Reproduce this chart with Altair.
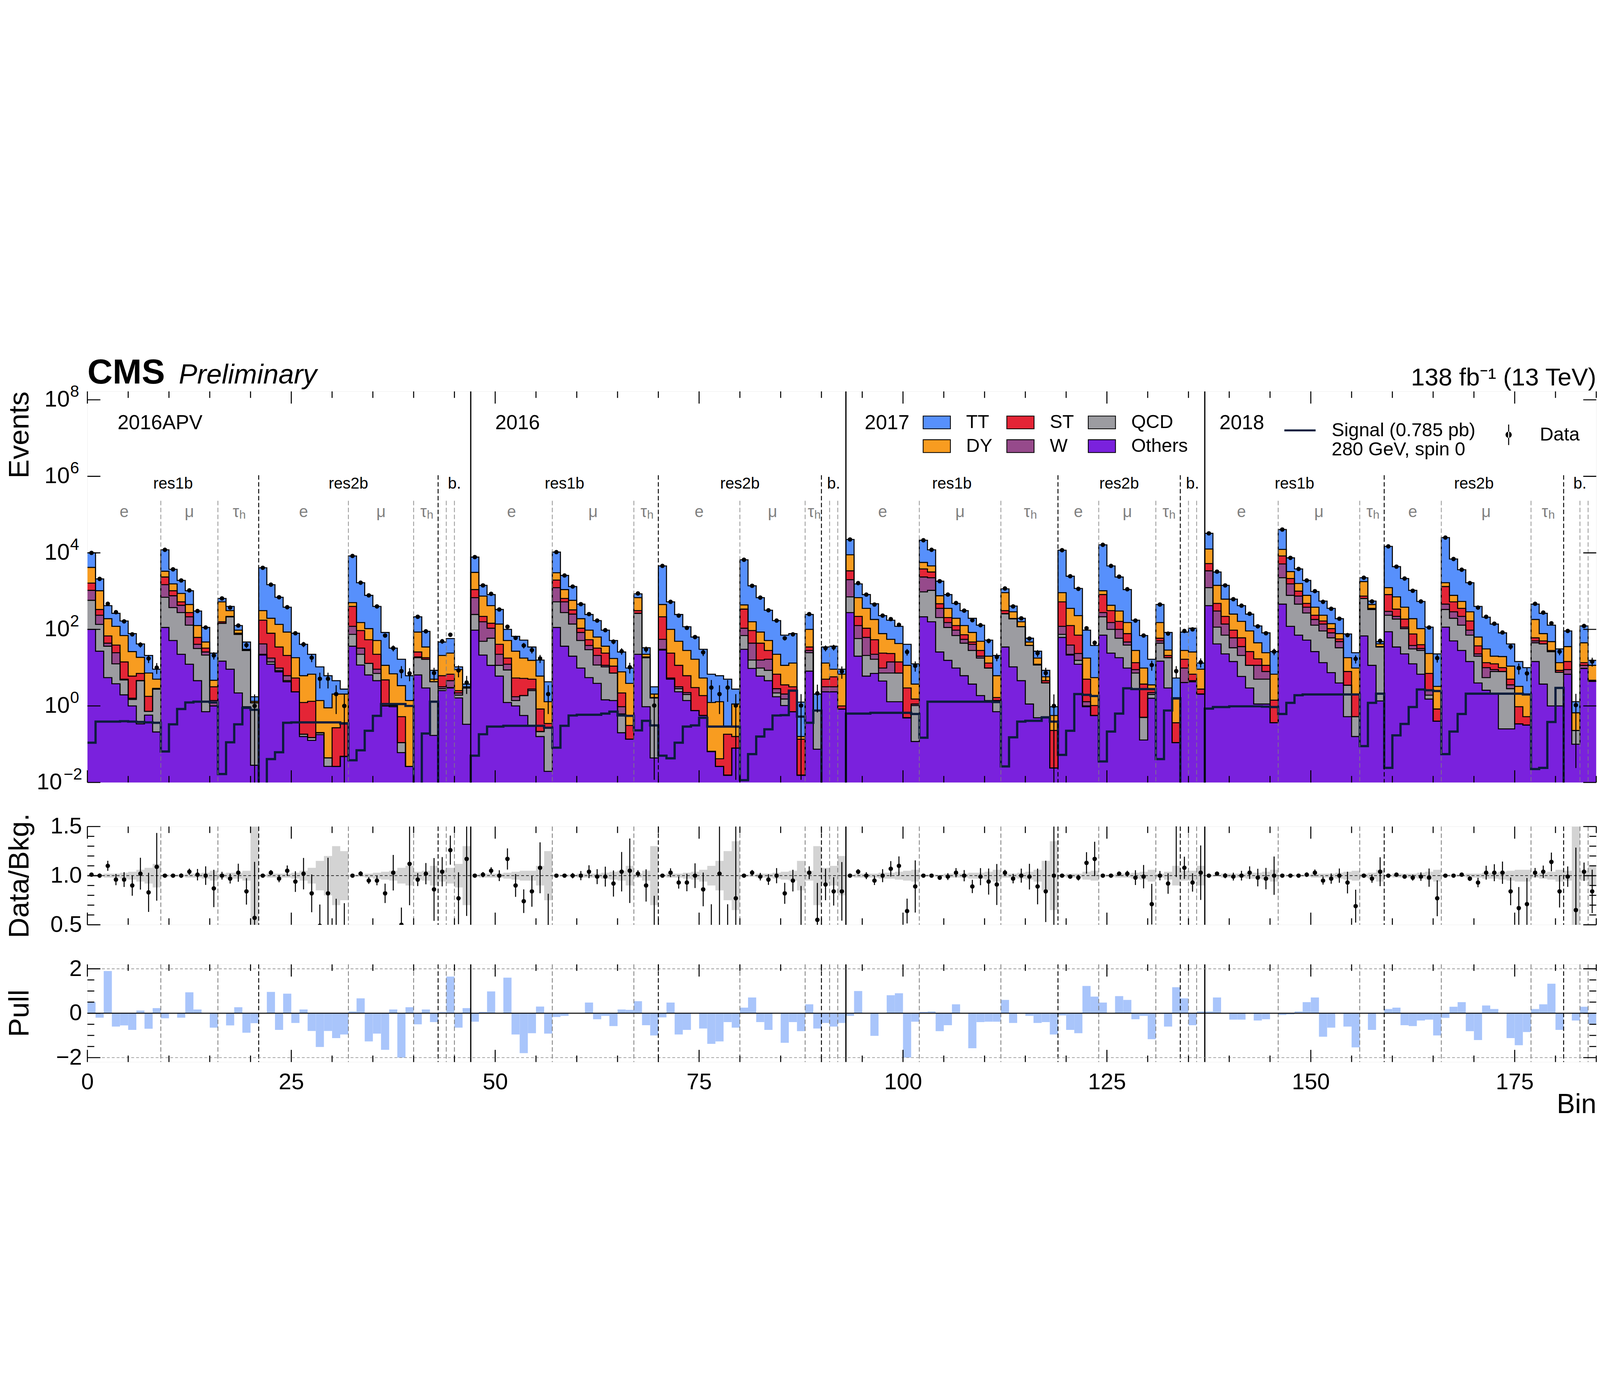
import pandas as pd
import altair as alt

FONT = "Liberation Sans"
W = 7430
H_TOP, H_RATIO, H_PULL = 1926, 484, 481
N_BINS = 185

# ---------------------------------------------------------------------------
# values
# stacked histogram: log10 of the upper edge of each stacked layer, per bin
# (stack order bottom -> top: Others, QCD, W, ST, DY, TT)
# ---------------------------------------------------------------------------
edge_others = [
    2.00, 1.43, 0.74, 0.58, 0.29, 0.00, -0.47, -0.24, -0.68, 2.05, 1.71, 1.35, 1.09, 0.66, -0.15, 0.00,
    1.17, 0.96, 0.34, -0.02, -1.55, 1.33, 1.09, 0.89, 0.63, 0.37, -0.80, -0.90, -0.75, -1.58, -1.58, -1.32,
    1.56, 1.07, 0.81, 0.66, 0.00, -0.02, -1.22, -1.58, 0.81, 0.47, -0.77, 0.40, 0.47, 0.21, -0.48,
    1.98, 1.33, 1.06, 0.78, 0.09, 0.00, -0.25, -0.51, -0.80, -1.71, 2.05, 1.56, 1.30, 0.99, 0.74, 0.59, 0.16, 0.14, -0.70, -0.87,
    1.35, -0.02, -1.36, 1.46, 0.70, 0.37, 0.14, -0.12, -0.25, -1.19, -1.58, -1.81, -1.10,
    1.48, 0.98, 0.78, 0.66, 0.24, 0.01, -0.15, -1.81, 0.91, -1.13, 0.37, 0.37, -0.08,
    2.44, 1.30, 0.78, 0.85, 0.65, 0.11, 0.11, -0.31, -0.93, 2.33, 2.20, 1.41, 1.19, 0.99, 0.79, 0.57, 0.27, 0.14, -0.15,
    1.54, 1.02, 0.66, 0.05, -0.31, -0.28, -1.62, 1.79, 1.33, 1.09, -0.02, -0.25,
    1.85, 1.38, 1.26, 0.99, 0.44, -0.89, 0.20, 1.17, 0.47, -0.96, 0.61, 0.63, 0.31,
    2.62, 1.62, 1.36, 1.16, 0.77, 0.47, 0.05, 0.05, -0.44, 2.66, 2.08, 1.85, 1.72, 1.42, 1.13, 0.87, 0.60, -0.28, -0.80,
    1.83, 1.06, 0.13, 1.94, 1.54, 1.36, 1.10, 0.83, 0.18, -0.40,
    2.06, 1.70, 1.45, 1.16, 0.60, 0.41, 0.31, -0.60, -0.60, -0.47, -0.50, 1.16, 0.57, 0.00, 0.00, 0.83, -1.00, 0.98, 0.64,
]
edge_qcd = [
    2.76, 2.13, 1.56, 1.10, 0.68, 0.17, 0.66, -0.14, 0.44, 2.84, 2.57, 2.44, 2.11, 1.50, 1.33, 0.00,
    2.16, 2.33, 1.87, 1.45, 0.08, 1.35, 1.15, 0.92, 0.66, 0.37, -0.74, -0.83, -0.70, -1.36, -1.58, -1.32,
    1.87, 1.35, 1.11, 0.85, 0.00, 0.01, -0.96, -1.58, 1.26, 1.22, 0.63, 0.45, 0.48, 0.28, 0.47,
    2.39, 1.69, 1.77, 1.06, 0.94, 0.14, 0.27, 0.40, -0.67, -0.57, 2.72, 2.44, 2.14, 1.71, 1.47, 1.07, 1.02, 0.86, -0.21, -0.87,
    2.42, 1.26, 0.21, 1.48, 0.72, 0.45, 0.30, -0.12, -0.25, -1.19, -1.58, -1.81, -1.10,
    1.84, 1.20, 0.99, 0.93, 0.34, 0.18, -0.15, -1.81, 1.39, -0.12, 0.37, 0.37, -0.08,
    2.85, 1.76, 1.32, 1.22, 0.86, 0.86, 0.86, -0.31, 0.01, 2.98, 3.02, 2.31, 2.05, 1.84, 1.64, 1.45, 1.25, 0.99, 0.14,
    2.41, 2.28, 2.07, 1.58, 1.07, 0.60, -1.62, 1.87, 1.35, 1.19, 0.00, -0.25,
    2.33, 2.00, 1.77, 1.59, 0.86, -0.30, 0.30, 1.64, 1.26, -0.96, 0.61, 0.63, 0.31,
    3.09, 2.06, 1.85, 1.52, 1.32, 1.06, 0.70, 0.70, -0.44, 3.35, 2.89, 2.66, 2.43, 2.11, 1.96, 1.78, 1.52, 0.54, -0.28,
    2.81, 2.52, 1.54, 2.37, 2.27, 2.02, 1.49, 1.45, 0.28, -0.40,
    2.52, 2.29, 2.11, 1.85, 1.30, 0.74, 0.90, 0.90, 0.45, -0.47, -0.50, 1.65, 1.62, 1.42, 0.88, 0.83, -0.64, 0.98, 0.64,
]
edge_w = [
    3.02, 2.37, 1.64, 1.39, 0.70, 0.20, 0.66, -0.14, 0.44, 3.17, 2.88, 2.63, 2.33, 1.61, 1.41, 0.14,
    2.16, 2.33, 1.87, 1.45, 0.08, 1.62, 1.25, 0.99, 0.79, 0.37, -0.74, -0.83, -0.70, -1.36, -1.58, -1.32,
    2.08, 1.51, 1.11, 0.96, 0.00, 0.01, -0.96, -1.58, 1.28, 1.22, 0.63, 0.50, 0.66, 0.34, 0.47,
    2.83, 2.20, 2.03, 1.35, 1.09, 0.24, 0.27, 0.44, -0.67, -0.57, 3.09, 2.72, 2.40, 1.92, 1.58, 1.32, 1.06, 0.86, -0.02, -0.87,
    2.42, 1.26, 0.21, 1.74, 0.73, 0.50, 0.35, -0.12, -0.25, -1.19, -1.58, -1.81, -1.10,
    2.03, 1.64, 1.20, 1.22, 0.45, 0.31, -0.15, -1.81, 1.45, -0.12, 0.50, 0.50, -0.08,
    3.30, 2.10, 1.79, 1.35, 0.99, 1.15, 0.86, -0.31, 0.05, 3.37, 3.35, 2.55, 2.18, 1.98, 1.74, 1.61, 1.30, 0.99, 0.14,
    2.41, 2.28, 2.07, 1.58, 1.07, 0.60, -1.62, 2.08, 1.59, 1.37, 0.11, -0.25,
    2.44, 2.18, 2.00, 1.67, 0.95, -0.30, 0.35, 1.70, 1.26, -0.96, 0.99, 0.66, 0.31,
    3.53, 2.48, 2.14, 1.78, 1.55, 1.06, 1.06, 0.90, -0.44, 3.71, 3.19, 2.87, 2.58, 2.26, 2.14, 1.91, 1.68, 0.54, -0.28,
    2.81, 2.52, 1.54, 2.47, 2.34, 2.06, 1.58, 1.50, 0.40, -0.40,
    2.66, 2.46, 2.34, 1.98, 1.36, 1.00, 0.95, 0.90, 0.55, -0.47, -0.50, 1.70, 1.62, 1.42, 0.88, 0.95, -0.64, 1.06, 0.64,
]
edge_st = [
    3.21, 2.52, 1.83, 1.59, 1.15, 0.78, 0.85, 0.25, 0.46, 3.37, 3.01, 2.72, 2.44, 1.79, 1.51, 0.50,
    2.20, 2.34, 1.90, 1.46, 0.08, 2.24, 1.90, 1.54, 1.32, 0.73, 0.09, 0.12, -0.70, -1.36, -0.57, -0.44,
    2.60, 1.97, 1.73, 1.35, 0.68, 0.03, -0.28, -1.58, 1.41, 1.26, 0.63, 0.79, 0.83, 0.40, 0.47,
    3.04, 2.34, 2.16, 1.61, 1.25, 0.73, 0.72, 0.70, -0.08, -0.46, 3.29, 2.81, 2.51, 2.03, 1.73, 1.51, 1.38, 1.04, 0.34, -0.51,
    2.49, 1.28, 0.22, 2.33, 1.38, 1.06, 0.79, 0.48, 0.27, -1.19, -1.38, -0.74, -0.80,
    2.53, 1.97, 1.64, 1.45, 0.83, 0.55, 0.50, -0.87, 1.54, -0.12, 0.70, 0.76, 0.00,
    3.53, 2.34, 2.03, 1.73, 1.38, 1.37, 1.15, 0.47, 0.18, 3.58, 3.50, 2.67, 2.31, 2.10, 1.86, 1.67, 1.45, 1.12, 0.22,
    2.49, 2.28, 2.07, 1.58, 1.09, 0.66, -0.64, 2.72, 2.10, 1.85, 0.70, 0.01,
    2.91, 2.49, 2.21, 1.89, 1.13, 0.57, 0.44, 1.77, 1.32, -0.44, 1.22, 0.83, 0.44,
    3.72, 2.68, 2.34, 1.98, 1.78, 1.42, 1.23, 1.06, 0.15, 3.92, 3.33, 3.00, 2.68, 2.37, 2.22, 2.02, 1.75, 0.90, 0.30,
    2.87, 2.55, 1.55, 2.91, 2.53, 2.27, 1.88, 1.60, 0.85, -0.08,
    3.12, 2.72, 2.55, 2.22, 1.57, 1.13, 1.10, 1.00, 0.70, -0.02, -0.28, 1.78, 1.70, 1.45, 0.93, 1.16, -0.64, 1.13, 0.67,
]
edge_dy = [
    3.62, 3.01, 2.28, 2.08, 1.84, 1.42, 1.27, 0.86, 0.70, 3.52, 3.19, 2.94, 2.65, 2.10, 1.67, 0.67,
    2.72, 2.49, 1.98, 1.48, 0.12, 2.49, 2.29, 2.13, 1.93, 1.26, 0.79, 0.83, 0.14, -0.05, 0.31, 0.31,
    2.70, 2.18, 2.02, 1.71, 1.06, 0.84, 0.53, 0.14, 1.93, 1.54, 0.70, 1.32, 1.38, 0.95, 0.50,
    3.49, 2.87, 2.62, 2.14, 1.71, 1.43, 1.25, 1.19, 0.78, 0.11, 3.48, 3.04, 2.76, 2.28, 1.98, 1.80, 1.56, 1.24, 0.89, 0.59,
    2.83, 1.35, 0.31, 2.65, 2.00, 1.69, 1.45, 1.22, 0.73, 0.09, 0.11, -0.55, 0.05,
    2.64, 2.20, 1.93, 1.71, 1.35, 1.06, 1.12, -0.80, 2.00, -0.12, 1.12, 0.96, 0.83,
    3.95, 2.83, 2.55, 2.26, 1.89, 1.74, 1.63, 1.06, 0.57, 3.75, 3.66, 2.88, 2.55, 2.29, 2.10, 1.92, 1.69, 1.30, 0.79,
    2.96, 2.46, 2.20, 1.67, 1.25, 0.76, -0.25, 2.96, 2.55, 2.36, 1.25, 0.74,
    3.01, 2.63, 2.48, 2.18, 1.45, 0.99, 0.55, 2.18, 1.46, 0.18, 1.45, 1.41, 0.96,
    4.10, 3.15, 2.79, 2.40, 2.21, 1.96, 1.65, 1.39, 0.83, 4.09, 3.51, 3.20, 2.89, 2.58, 2.37, 2.15, 1.89, 1.26, 0.99,
    3.25, 2.65, 1.62, 3.09, 2.85, 2.58, 2.28, 2.02, 1.37, 0.51,
    3.22, 2.89, 2.73, 2.46, 1.80, 1.49, 1.30, 1.29, 1.04, 0.51, 0.31, 2.26, 1.89, 1.68, 1.13, 1.55, -0.18, 1.65, 1.06,
]
edge_tt = [
    4.00, 3.32, 2.62, 2.42, 2.22, 1.89, 1.62, 1.32, 0.96, 4.08, 3.57, 3.28, 3.01, 2.48, 2.05, 1.38,
    2.81, 2.60, 2.10, 1.67, 0.24, 3.61, 3.17, 2.84, 2.58, 1.90, 1.61, 1.35, 1.02, 0.79, 0.66, 0.44,
    3.92, 3.22, 2.89, 2.60, 1.92, 1.51, 1.22, 0.79, 2.33, 1.95, 0.93, 1.67, 1.76, 1.02, 0.57,
    3.89, 3.15, 2.91, 2.52, 2.00, 1.82, 1.72, 1.54, 1.20, 0.63, 4.02, 3.41, 3.12, 2.66, 2.39, 2.23, 1.98, 1.71, 1.41, 0.99,
    2.93, 1.52, 0.50, 3.66, 2.72, 2.39, 2.07, 1.80, 1.48, 0.83, 0.79, 0.70, 0.44,
    3.82, 3.14, 2.83, 2.50, 2.23, 1.85, 1.89, 0.10, 2.39, 0.31, 1.54, 1.56, 0.96,
    4.35, 3.19, 2.91, 2.67, 2.36, 2.24, 2.08, 1.61, 1.10, 4.33, 4.08, 3.26, 2.91, 2.68, 2.49, 2.29, 2.11, 1.72, 1.32,
    3.06, 2.61, 2.29, 1.77, 1.43, 0.93, -0.02, 4.07, 3.39, 3.07, 1.98, 1.58,
    4.21, 3.66, 3.37, 3.04, 2.24, 1.84, 1.22, 2.65, 1.92, 0.73, 1.93, 2.03, 1.12,
    4.51, 3.50, 3.15, 2.79, 2.62, 2.40, 2.09, 1.91, 1.42, 4.61, 3.87, 3.58, 3.28, 2.99, 2.74, 2.55, 2.28, 1.88, 1.39,
    3.35, 2.74, 1.68, 4.17, 3.64, 3.33, 3.02, 2.73, 2.06, 1.36,
    4.40, 3.84, 3.56, 3.22, 2.60, 2.32, 2.14, 1.91, 1.62, 1.16, 1.00, 2.66, 2.42, 2.11, 1.49, 1.96, 0.11, 2.09, 1.19,
]
# observed events, log10
data_log = [
    4.00, 3.32, 2.67, 2.45, 2.21, 1.87, 1.60, 1.24, 1.00, 4.08, 3.57, 3.28, 3.02, 2.48, 2.05, 1.32,
    2.81, 2.57, 2.10, 1.59, 0.00, 3.61, 3.17, 2.84, 2.58, 1.90, 1.61, 1.26, 0.71, 0.71, 0.31, 0.00,
    3.92, 3.22, 2.89, 2.60, 1.84, 1.51, 0.91, 0.85, 2.33, 1.95, 0.86, 1.69, 1.86, 0.93, 0.61,
    3.89, 3.15, 2.93, 2.52, 2.07, 1.78, 1.58, 1.46, 1.24, 0.31, 4.02, 3.41, 3.12, 2.66, 2.40, 2.23, 1.98, 1.68, 1.43, 1.01,
    2.94, 1.48, 0.01, 3.66, 2.72, 2.36, 2.04, 1.80, 1.40, 0.48, 0.31, 0.48, 0.01,
    3.82, 3.14, 2.83, 2.50, 2.23, 1.77, 1.87, 0.01, 2.40, 0.33, 1.51, 1.53, 0.90,
    4.35, 3.21, 2.91, 2.65, 2.36, 2.27, 2.12, 1.41, 1.05, 4.33, 4.08, 3.26, 2.91, 2.69, 2.49, 2.24, 2.11, 1.70, 1.28,
    3.07, 2.60, 2.29, 1.76, 1.38, 0.86, 0.00, 4.07, 3.39, 3.06, 2.03, 1.65,
    4.21, 3.66, 3.38, 3.05, 2.23, 1.84, 1.07, 2.65, 1.89, 0.91, 1.96, 2.00, 1.14,
    4.51, 3.51, 3.15, 2.79, 2.62, 2.41, 2.08, 1.90, 1.42, 4.61, 3.87, 3.58, 3.28, 3.00, 2.72, 2.54, 2.28, 1.85, 1.23,
    3.35, 2.73, 1.70, 4.17, 3.64, 3.33, 3.01, 2.73, 2.05, 1.25,
    4.40, 3.84, 3.56, 3.21, 2.57, 2.33, 2.15, 1.92, 1.55, 0.99, 0.85, 2.67, 2.44, 2.16, 1.42, 1.96, 0.02, 2.09, 1.16,
]
# signal 280 GeV, log10 (-3 = below the axis)
signal_log = [
    -0.96, -0.41, -0.41, -0.41, -0.40, -0.41, -0.42, -0.43, -0.44, -1.19, -0.48, -0.08, 0.09, 0.11, 0.11, 0.09,
    -1.78, -0.95, -0.48, -0.05, -0.10, -3, -1.39, -1.21, -0.44, -0.43, -0.43, -0.43, -0.43, -0.43, -0.43, -0.46,
    -1.42, -1.16, -0.65, -0.26, 0.05, 0.05, 0.05, 0.00, -3, -0.72, 0.11, -3, -3, -3, -3,
    -1.30, -0.74, -0.54, -0.54, -0.52, -0.52, -0.52, -0.52, -0.52, -0.57, -1.09, -0.52, -0.25, -0.23, -0.23, -0.23, -0.20, -0.15, -0.25, -0.26,
    -0.64, -0.39, -0.51, -1.30, -1.37, -0.96, -0.54, -0.51, -0.31, -0.54, -0.54, -0.54, -0.54,
    -1.94, -1.26, -0.80, -0.61, -0.25, -0.24, 0.40, -0.28, -0.44, -0.12, -3, -3, -3,
    -0.20, -0.20, -0.20, -0.18, -0.18, -0.18, -0.18, -0.18, -0.21, -0.83, 0.11, 0.11, 0.11, 0.11, 0.11, 0.11, 0.11, 0.11, 0.10,
    -1.58, -0.82, -0.41, -0.39, -0.39, -0.30, -0.41, -1.28, -0.65, 0.31, 0.29, 0.26,
    -1.45, -0.67, -0.20, 0.46, 0.44, 0.44, 0.44, -1.39, -0.12, 0.20, -3, -3, -3,
    -0.07, -0.03, -0.03, -0.01, -0.01, -0.01, -0.01, -0.02, -0.03, -0.21, 0.08, 0.28, 0.30, 0.30, 0.30, 0.30, 0.30, 0.30, 0.30,
    -1.05, 0.08, 0.32, -1.62, -0.77, -0.47, -0.03, 0.43, 0.41, 0.39,
    -1.26, -0.67, -0.21, 0.32, 0.32, 0.32, 0.32, 0.32, 0.32, 0.32, 0.30, -1.65, -1.62, -0.42, 0.47, -3, -3, -3, -3,
]
# Data / background
ratio = [
    1.01, 1.00, 1.10, 0.96, 0.96, 0.90, 1.02, 0.83, 1.09, 1.00, 1.00, 1.00, 1.04, 1.01, 1.00, 0.87,
    1.00, 0.97, 1.03, 0.84, 0.57, 1.00, 1.03, 0.97, 1.05, 0.94, 1.02, 0.82, 0.49, 0.82, 0.45, 0.36,
    1.00, 1.02, 0.95, 0.95, 0.82, 1.03, 0.50, 1.12, 0.96, 1.02, 0.86, 1.04, 1.26, 0.77, 1.17,
    1.00, 1.01, 1.05, 1.00, 1.17, 0.90, 0.74, 0.84, 1.08, 0.48, 1.00, 1.00, 1.00, 1.00, 1.04, 0.99, 0.99, 0.92, 1.04, 1.05,
    1.02, 0.90, 0.40, 1.00, 1.03, 0.93, 0.93, 1.00, 0.86, 0.45, 1.02, 0.45, 0.77,
    1.00, 1.03, 0.99, 0.96, 1.00, 0.82, 0.95, 0.45, 1.03, 0.55, 0.91, 0.84, 0.84,
    1.00, 1.04, 1.00, 0.95, 1.00, 1.07, 1.10, 0.64, 0.89, 1.00, 1.00, 0.98, 0.99, 1.03, 1.00, 0.89, 0.99, 0.94, 0.91,
    1.03, 0.97, 1.00, 0.99, 0.89, 0.84, 1.00, 1.00, 0.99, 0.98, 1.13, 1.17,
    1.00, 1.00, 1.02, 1.02, 0.98, 0.99, 0.71, 1.00, 0.92, 1.52, 1.08, 0.93, 1.03,
    1.00, 1.02, 1.00, 0.99, 1.00, 1.03, 0.98, 0.97, 1.00, 1.00, 1.00, 1.00, 1.01, 1.03, 0.95, 0.97, 1.00, 0.93, 0.69,
    1.00, 0.97, 1.04, 1.00, 1.01, 0.99, 0.98, 0.99, 0.98, 0.77,
    1.00, 1.00, 1.01, 0.97, 0.93, 1.03, 1.03, 1.03, 0.84, 0.67, 0.71, 1.03, 1.04, 1.14, 0.84, 0.99, 0.65, 1.04, 0.84,
]
# half width of the background uncertainty band in the ratio
band = [
    0.01, 0.01, 0.02, 0.02, 0.03, 0.04, 0.06, 0.08, 0.12, 0.01, 0.01, 0.01, 0.02, 0.02, 0.03, 0.05,
    0.02, 0.03, 0.03, 0.05, 0.50, 0.01, 0.02, 0.02, 0.02, 0.03, 0.05, 0.08, 0.15, 0.20, 0.30, 0.25,
    0.01, 0.01, 0.02, 0.03, 0.04, 0.05, 0.08, 0.10, 0.04, 0.05, 0.10, 0.06, 0.08, 0.12, 0.30,
    0.01, 0.02, 0.02, 0.02, 0.03, 0.04, 0.05, 0.05, 0.10, 0.25, 0.01, 0.01, 0.01, 0.02, 0.02, 0.02, 0.03, 0.04, 0.05, 0.10,
    0.02, 0.05, 0.30, 0.01, 0.02, 0.02, 0.03, 0.04, 0.06, 0.10, 0.15, 0.25, 0.35,
    0.01, 0.01, 0.02, 0.02, 0.03, 0.04, 0.05, 0.15, 0.05, 0.30, 0.08, 0.10, 0.20,
    0.01, 0.02, 0.02, 0.02, 0.03, 0.03, 0.04, 0.05, 0.06, 0.01, 0.01, 0.01, 0.02, 0.02, 0.02, 0.03, 0.03, 0.04, 0.06,
    0.02, 0.02, 0.03, 0.04, 0.06, 0.15, 0.35, 0.01, 0.02, 0.02, 0.04, 0.05,
    0.01, 0.01, 0.02, 0.02, 0.03, 0.04, 0.06, 0.02, 0.04, 0.10, 0.05, 0.05, 0.10,
    0.01, 0.01, 0.02, 0.02, 0.02, 0.03, 0.03, 0.04, 0.06, 0.01, 0.01, 0.01, 0.01, 0.02, 0.02, 0.02, 0.03, 0.04, 0.05,
    0.02, 0.03, 0.06, 0.01, 0.02, 0.02, 0.02, 0.03, 0.04, 0.06,
    0.01, 0.01, 0.01, 0.02, 0.02, 0.03, 0.03, 0.04, 0.05, 0.06, 0.06, 0.02, 0.03, 0.04, 0.06, 0.05, 0.50, 0.05, 0.10,
]
pull = [
    0.50, -0.20, 1.90, -0.60, -0.55, -0.75, 0.12, -0.70, 0.23, -0.23, 0.00, -0.20, 0.94, 0.17, 0.00, -0.65,
    0.00, -0.55, 0.27, -0.88, -0.45, 0.00, 0.96, -0.75, 0.88, -0.44, 0.17, -0.80, -1.52, -0.80, -1.12, -0.96,
    0.08, 0.67, -1.27, -0.92, -1.65, 0.17, -2.00, 0.27, -0.50, 0.17, -0.40, 0.05, 1.65, -0.65, 0.23,
    -0.38, 0.06, 0.98, 0.00, 1.60, -0.96, -1.80, -0.90, 0.30, -0.92, -0.17, -0.12, 0.00, 0.02, 0.48, -0.27, -0.12, -0.58, 0.17, 0.15,
    0.54, -0.54, -1.00, -0.19, 0.48, -0.96, -0.75, 0.00, -0.69, -1.38, -1.27, -0.40, -0.65,
    0.25, 0.71, -0.40, -0.75, 0.00, -1.33, -0.40, -0.81, 0.40, -0.69, -0.44, -0.60, -0.44,
    -0.12, 1.00, 0.00, -1.02, 0.00, 0.81, 0.90, -2.00, -0.38, 0.06, 0.08, -0.81, -0.54, 0.40, 0.00, -1.58, -0.40, -0.38, -0.38,
    0.60, -0.44, 0.00, -0.12, -0.44, -0.40, -0.96, -0.10, -0.75, -0.90, 1.23, 0.75,
    0.48, 0.00, 0.77, 0.60, -0.27, -0.12, -1.17, -0.02, -0.60, 1.17, 0.67, -0.54, 0.08,
    0.08, 0.71, 0.00, -0.29, -0.29, 0.00, -0.33, -0.27, 0.00, -0.08, -0.05, 0.08, 0.50, 0.71, -1.06, -0.65, 0.00, -0.60, -1.54,
    0.00, -0.75, 0.00, 0.19, 0.25, -0.54, -0.58, -0.33, -0.29, -1.00,
    -0.21, 0.29, 0.50, -0.81, -1.21, 0.35, 0.19, 0.00, -1.12, -1.44, -0.85, 0.19, 0.40, 1.33, -0.75, 0.00, -0.33, 0.29, -0.48,
]

# category layout
years = ["2016APV", "2016", "2017", "2018"]
year_label_x = [3.7, 50.0, 95.3, 138.8]
year_edges = [47, 93, 137]
region_edges = [21, 43, 70, 90, 119, 134, 159, 181]
channel_edges = [9, 16, 32, 40, 44, 45, 57, 67, 80, 88, 91, 92,
                 102, 112, 124, 131, 135, 136, 146, 156, 166, 177, 183, 184]
region_names = ["res1b", "res2b", "b."] * 4
region_centers = [10.5, 32, 45, 58.5, 80, 91.5, 106, 126.5, 135.5, 148, 170, 183]
lep_names = ["e", "μ"] * 8
lep_centers = [4.5, 12.5, 26.5, 36, 52, 62, 75, 84, 97.5, 107, 121.5, 127.5, 141.5, 151, 162.5, 171.5]
tau_centers = [18.5, 41.5, 68.5, 89, 115.5, 132.5, 157.5, 179]

procs = ["Others", "QCD", "W", "ST", "DY", "TT"]
# legend is filled column by column: (TT, DY) (ST, W) (QCD, Others)
legend_order = ["TT", "DY", "ST", "W", "QCD", "Others"]
legend_colors = ["#5790fc", "#f89c20", "#e42536", "#964a8b", "#9c9ca1", "#7a21dd"]
SIGNAL_COLOR = "#0c1c3c"

for arr in (edge_others, edge_qcd, edge_w, edge_st, edge_dy, edge_tt,
            data_log, signal_log, ratio, band, pull):
    assert len(arr) == N_BINS, len(arr)

# ---------------------------------------------------------------------------
# tables
# ---------------------------------------------------------------------------
edges_log = [edge_others, edge_qcd, edge_w, edge_st, edge_dy, edge_tt]
rows = []
for k, p in enumerate(procs):
    for x in range(N_BINS + 1):
        b = min(x, N_BINS - 1)
        rows.append({"x": x, "proc": p, "up": 10 ** edges_log[k][b],
                     "lo": 10 ** edges_log[k - 1][b] if k else 1e-3})
stack_df = pd.DataFrame(rows)

edge_x = list(range(N_BINS + 1))
last = [min(x, N_BINS - 1) for x in edge_x]
sig_df = pd.DataFrame({"x": edge_x, "y": [10 ** signal_log[b] for b in last], "lab": "Signal"})
band_df = pd.DataFrame({"x": edge_x, "lo": [1 - band[b] for b in last], "hi": [1 + band[b] for b in last]})

centers = [b + 0.5 for b in range(N_BINS)]
n_obs = [10 ** v for v in data_log]
data_df = pd.DataFrame({"x": centers, "y": n_obs, "lab": "Data"})
data_df["lo"] = (data_df["y"] - data_df["y"] ** 0.5).clip(lower=1e-3)
data_df["hi"] = data_df["y"] + data_df["y"] ** 0.5

ratio_df = pd.DataFrame({"x": centers, "r": ratio, "n": n_obs})
ratio_df["lo"] = ratio_df["r"] - ratio_df["r"] / ratio_df["n"] ** 0.5
ratio_df["hi"] = ratio_df["r"] + ratio_df["r"] / ratio_df["n"] ** 0.5

pull_df = pd.DataFrame({"x0": list(range(N_BINS)), "x1": [b + 1 for b in range(N_BINS)],
                        "p": pull, "zero": 0.0})

# ---------------------------------------------------------------------------
# scales, axes, helpers
# ---------------------------------------------------------------------------
x_sc = alt.Scale(domain=[0, N_BINS], nice=False, zero=False)
y_log = alt.Scale(type="log", domain=[1e-2, 10 ** 8.22], nice=False)
y_rat = alt.Scale(domain=[0.5, 1.5], nice=False, zero=False)
y_pul = alt.Scale(domain=[-2.2, 2.2], nice=False, zero=False)

title_kw = dict(titleFont=FONT, titleFontSize=140, titleFontWeight="normal", titleColor="black",
                titleAngle=270, titleBaseline="alphabetic", titleX=-290, titleLimit=0)
AX_EVENTS = alt.Axis(title="Events", labels=False, ticks=False, domain=False, grid=False,
                     titleAnchor="end", titleAlign="right", titleY=0, **title_kw)
lab_kw = dict(labelFont=FONT, labelFontSize=112, labelColor="black", labelFlush=False,
              labelLimit=0, labelOverlap=False, ticks=False, domain=False, grid=False)
AX_RATIO = alt.Axis(title="Data/Bkg.", values=[0.5, 1.0, 1.5], format=".1f", labelPadding=27,
                    titleAlign="center", titleY=H_RATIO / 2, **lab_kw, **title_kw)
AX_PULL = alt.Axis(title="Pull", values=[-2, 0, 2], format="d", labelPadding=27,
                   titleAlign="center", titleY=H_PULL / 2, **lab_kw, **title_kw)
AX_X = alt.Axis(title="Bin", values=list(range(0, 176, 25)), labelPadding=45,
                titleFont=FONT, titleFontSize=135, titleFontWeight="normal", titleColor="black",
                titleAnchor="end", titleAlign="right", titleBaseline="alphabetic",
                titleX=W, titleY=250, **lab_kw)


def X(field, axis=None):
    return alt.X(field, type="quantitative", scale=x_sc, axis=axis)


def Y(field, scale, axis):
    return alt.Y(field, type="quantitative", scale=scale, axis=axis, stack=None)


x_major = list(range(0, 176, 25))
x_minor = [v for v in range(0, N_BINS + 1, 5) if v % 25]


def inner_ticks(h, scale, axis, y_major, y_minor, x_axis=None):
    out = []
    for vals, length in ((x_major, 60), (x_minor, 32)):
        d = pd.DataFrame({"x": vals})
        base = alt.Chart(d).mark_rule(color="black", strokeWidth=5)
        out.append(base.encode(x=X("x", x_axis), y=alt.value(0), y2=alt.value(length)))
        out.append(base.encode(x=X("x", x_axis), y=alt.value(h), y2=alt.value(h - length)))
    for vals, length in ((y_major, 64), (y_minor, 34)):
        if not vals:
            continue
        d = pd.DataFrame({"v": vals})
        base = alt.Chart(d).mark_rule(color="black", strokeWidth=5)
        out.append(base.encode(y=Y("v", scale, axis), x=alt.value(0), x2=alt.value(length)))
        out.append(base.encode(y=Y("v", scale, axis), x=alt.value(W), x2=alt.value(W - length)))
    return out


def separators(scale, axis, h, region_top=None, channel_top=None, x_axis=None):
    out = []
    reg = pd.DataFrame({"x": region_edges})
    chn = pd.DataFrame({"x": channel_edges})
    if region_top is None:
        out.append(alt.Chart(chn).mark_rule(color="#7f7f7f", strokeWidth=4, strokeDash=[22, 12])
                   .encode(x=X("x", x_axis)))
        out.append(alt.Chart(reg).mark_rule(color="black", strokeWidth=4.5, strokeDash=[22, 12])
                   .encode(x=X("x", x_axis)))
    else:
        chn["top"] = channel_top
        reg["top"] = region_top
        out.append(alt.Chart(chn).mark_rule(color="#7f7f7f", strokeWidth=4, strokeDash=[22, 12], opacity=0.8)
                   .encode(x=X("x", x_axis), y=Y("top", scale, axis), y2=alt.value(h)))
        out.append(alt.Chart(reg).mark_rule(color="black", strokeWidth=4.5, strokeDash=[22, 12])
                   .encode(x=X("x", x_axis), y=Y("top", scale, axis), y2=alt.value(h)))
    out.append(alt.Chart(pd.DataFrame({"x": year_edges})).mark_rule(color="black", strokeWidth=6)
               .encode(x=X("x", x_axis)))
    return out


one = pd.DataFrame({"a": [0]})

# ---------------------------------------------------------------------------
# top panel
# ---------------------------------------------------------------------------
rect_path = "M-1,-0.47H1V0.47H-1Z"
dot_bar = ("M-0.3,0A0.3,0.3,0,1,0,0.3,0A0.3,0.3,0,1,0,-0.3,0Z"
           "M-0.05,-1H0.05V1H-0.05Z")

areas = alt.Chart(stack_df).mark_area(interpolate="step-after", clip=True).encode(
    x=X("x"), y=Y("up", y_log, AX_EVENTS), y2="lo:Q",
    color=alt.Color("proc:N", scale=alt.Scale(domain=legend_order, range=legend_colors),
                    legend=alt.Legend(orient="none", legendX=4113, legendY=83, columns=3, title=None,
                                      symbolType=rect_path, symbolSize=18000, labelFont=FONT,
                                      labelFontSize=93, labelColor="black", labelOffset=75,
                                      columnPadding=62, rowPadding=0, labelLimit=0, padding=0,
                                      symbolStrokeColor="black", symbolStrokeWidth=4,
                                      symbolOpacity=1)))
outlines = alt.Chart(stack_df).mark_line(interpolate="step-after", color="black", strokeWidth=5,
                                         clip=True).encode(
    x=X("x"), y=Y("up", y_log, AX_EVENTS), detail="proc:N")
signal = alt.Chart(sig_df).mark_line(interpolate="step-after", strokeWidth=11, clip=True).encode(
    x=X("x"), y=Y("y", y_log, AX_EVENTS),
    stroke=alt.Stroke("lab:N", scale=alt.Scale(domain=["Signal"], range=[SIGNAL_COLOR]),
                      legend=alt.Legend(orient="none", legendX=5889, legendY=110, title=None,
                                        symbolType="stroke", symbolSize=23700, symbolStrokeWidth=10,
                                        labelFont=FONT, labelFontSize=93, labelColor="black",
                                        labelOffset=74, labelLimit=0, padding=0,
                                        labelExpr="['Signal (0.785 pb)', '280 GeV, spin 0']")))
err_top = alt.Chart(data_df).mark_rule(color="black", strokeWidth=5, clip=True).encode(
    x=X("x"), y=Y("lo", y_log, AX_EVENTS), y2="hi:Q")
pts_top = alt.Chart(data_df).mark_circle(size=480, color="black", clip=True).encode(
    x=X("x"), y=Y("y", y_log, AX_EVENTS),
    opacity=alt.Opacity("lab:N", scale=alt.Scale(domain=["Data"], range=[1]),
                        legend=alt.Legend(orient="none", legendX=6948, legendY=163, title=None,
                                          symbolType=dot_bar, symbolSize=10200, labelFont=FONT,
                                          labelFontSize=93, labelColor="black", labelOffset=103,
                                          labelLimit=0, padding=0, symbolFillColor="black",
                                          symbolStrokeWidth=0, symbolOpacity=1)))

# log axis labels, drawn as 10 + exponent
exp_pos = pd.DataFrame({"v": [1, 1e2, 1e4, 1e6, 1e8], "sup": ["0", "2", "4", "6", "8"]})
exp_neg = pd.DataFrame({"v": [1e-2], "sup": ["−2"]})
lab_layers = []
for d, x_ten, x_sup in ((exp_pos, -87, -85), (exp_neg, -125, -117)):
    lab_layers.append(alt.Chart(d).mark_text(text="10", font=FONT, fontSize=112, align="right",
                                             baseline="middle", color="black")
                      .encode(y=Y("v", y_log, AX_EVENTS), x=alt.value(x_ten)))
    lab_layers.append(alt.Chart(d).mark_text(font=FONT, fontSize=80, align="left", baseline="middle",
                                             dy=-38, color="black")
                      .encode(y=Y("v", y_log, AX_EVENTS), x=alt.value(x_sup), text="sup:N"))

reg_df = pd.DataFrame({"x": region_centers, "t": region_names, "y": 10 ** 5.8})
lep_df = pd.DataFrame({"x": lep_centers, "t": lep_names, "y": 10 ** 5.06})
tau_df = pd.DataFrame({"x": tau_centers, "y": 10 ** 5.06})
yr_df = pd.DataFrame({"x": year_label_x, "t": years, "y": 10 ** 7.39})

texts = [
    alt.Chart(reg_df).mark_text(font=FONT, fontSize=78, baseline="middle", color="black")
    .encode(x=X("x"), y=Y("y", y_log, AX_EVENTS), text="t:N"),
    alt.Chart(lep_df).mark_text(font=FONT, fontSize=80, baseline="middle", color="#808080")
    .encode(x=X("x"), y=Y("y", y_log, AX_EVENTS), text="t:N"),
    alt.Chart(tau_df).mark_text(text="τ", font=FONT, fontSize=80, baseline="middle", align="right",
                                dx=4, color="#808080")
    .encode(x=X("x"), y=Y("y", y_log, AX_EVENTS)),
    alt.Chart(tau_df).mark_text(text="h", font=FONT, fontSize=58, baseline="middle", align="left",
                                dx=5, dy=14, color="#808080")
    .encode(x=X("x"), y=Y("y", y_log, AX_EVENTS)),
    alt.Chart(yr_df).mark_text(font=FONT, fontSize=99, baseline="middle", align="left", color="black")
    .encode(x=X("x"), y=Y("y", y_log, AX_EVENTS), text="t:N"),
    alt.Chart(one).mark_text(text="CMS", font=FONT, fontSize=172, fontWeight="bold", align="left",
                             baseline="alphabetic", color="black")
    .encode(x=alt.value(0), y=alt.value(-38)),
    alt.Chart(one).mark_text(text="Preliminary", font=FONT, fontSize=136, fontStyle="italic",
                             align="left", baseline="alphabetic", color="black")
    .encode(x=alt.value(450), y=alt.value(-38)),
    alt.Chart(one).mark_text(text="138 fb⁻¹ (13 TeV)", font=FONT, fontSize=122, align="right",
                             baseline="alphabetic", color="black")
    .encode(x=alt.value(W), y=alt.value(-30)),
]

top = alt.layer(
    areas, outlines, signal,
    *separators(y_log, AX_EVENTS, H_TOP, region_top=10 ** 6.03, channel_top=10 ** 5.36),
    err_top, pts_top, *texts, *lab_layers,
    *inner_ticks(H_TOP, y_log, AX_EVENTS, [1e-2, 1, 1e2, 1e4, 1e6, 1e8], []),
).properties(width=W, height=H_TOP)

# ---------------------------------------------------------------------------
# ratio panel
# ---------------------------------------------------------------------------
band_area = alt.Chart(band_df).mark_area(interpolate="step-after", color="#d3d3d3", clip=True).encode(
    x=X("x"), y=Y("lo", y_rat, AX_RATIO), y2="hi:Q")
one_line = alt.Chart(pd.DataFrame({"v": [1.0]})).mark_rule(color="black", strokeWidth=3,
                                                           strokeDash=[14, 10]).encode(
    y=Y("v", y_rat, AX_RATIO))
err_r = alt.Chart(ratio_df).mark_rule(color="black", strokeWidth=5, clip=True).encode(
    x=X("x"), y=Y("lo", y_rat, AX_RATIO), y2="hi:Q")
pts_r = alt.Chart(ratio_df).mark_circle(size=480, color="black", opacity=1, clip=True).encode(
    x=X("x"), y=Y("r", y_rat, AX_RATIO))

ratio_panel = alt.layer(
    band_area, one_line, *separators(y_rat, AX_RATIO, H_RATIO), err_r, pts_r,
    *inner_ticks(H_RATIO, y_rat, AX_RATIO, [0.5, 1.0, 1.5],
                 [0.6, 0.7, 0.8, 0.9, 1.1, 1.2, 1.3, 1.4]),
).properties(width=W, height=H_RATIO)

# ---------------------------------------------------------------------------
# pull panel
# ---------------------------------------------------------------------------
bars = alt.Chart(pull_df).mark_rect(color="#a9c5fb", clip=True).encode(
    x=X("x0", AX_X), x2="x1:Q", y=Y("p", y_pul, AX_PULL), y2="zero:Q")
two_lines = alt.Chart(pd.DataFrame({"v": [-2.0, 2.0]})).mark_rule(
    color="#8c8c8c", strokeWidth=3, strokeDash=[14, 10]).encode(y=Y("v", y_pul, AX_PULL))
zero_line = alt.Chart(pd.DataFrame({"v": [0.0]})).mark_rule(color="black", strokeWidth=5).encode(
    y=Y("v", y_pul, AX_PULL))

pull_panel = alt.layer(
    bars, *separators(y_pul, AX_PULL, H_PULL, x_axis=AX_X), two_lines, zero_line,
    *inner_ticks(H_PULL, y_pul, AX_PULL, [-2, 0, 2], [-1.5, -1, -0.5, 0.5, 1, 1.5], x_axis=AX_X),
).properties(width=W, height=H_PULL)

chart = alt.vconcat(top, ratio_panel, pull_panel, spacing=94).resolve_scale(
    y="independent", color="independent", stroke="independent", opacity="independent"
).resolve_legend(
    color="independent", stroke="independent", opacity="independent"
).properties(
    padding={"left": 12, "top": 0, "right": 0, "bottom": 0}
).configure_view(stroke="black", strokeWidth=10).configure(font=FONT)

chart.save("out.html", embed_options={"renderer": "svg", "actions": False})
